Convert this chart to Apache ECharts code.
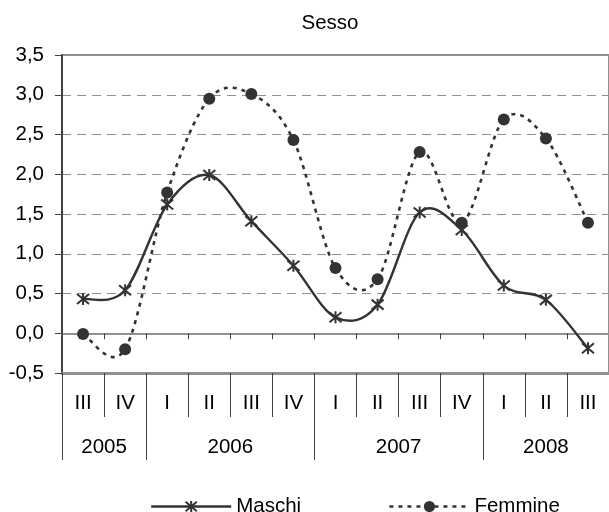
<!DOCTYPE html>
<html>
<head>
<meta charset="utf-8">
<script src="https://cdn.jsdelivr.net/npm/echarts@6/dist/echarts.min.js"></script>
<style>
html,body{margin:0;padding:0;background:#fff;}
#c{width:609px;height:512px;}
</style>
</head>
<body>
<div id="c"></div>
<script>
var quarters = ['III','IV','I','II','III','IV','I','II','III','IV','I','II','III'];
var years = ['2005','2006','2007','2008'];
var yearSpans = [2,4,4,3];
var maschi = [0.43,0.54,1.62,1.99,1.41,0.85,0.20,0.36,1.52,1.30,0.60,0.42,-0.19];
var femmine = [-0.01,-0.20,1.77,2.95,3.01,2.43,0.82,0.68,2.28,1.39,2.69,2.45,1.39];
var yTicks = {min:-0.5, max:3.5, interval:0.5};

// Half-slot year axis (2 slots per quarter, plus end point)
var nHalf = quarters.length*2;
var yearSlots = [];
for (var i=0;i<=nHalf;i++) yearSlots.push('');
var yearBounds = [0];
var yearCenters = [];
var pos = 0;
for (var k=0;k<years.length;k++){
  var c = pos + yearSpans[k];
  yearSlots[c] = years[k];
  yearCenters.push(c);
  pos += yearSpans[k]*2;
  yearBounds.push(pos);
}

var FONT = "'Liberation Sans', Arial, sans-serif";
var FS = 20.5;
var TXT = {fontFamily: FONT, fontSize: FS, color: '#000'};
var starPath = 'path://M0,0L10,10M0,10L10,0M5,-1L5,11';
var INK = '#333';
var MW = 2.4, FW = 2.6, FDASH = [4,5];

// Smooth curve (Catmull-Rom style bezier) through the points, positioned by the axes
function curve(arr, lw, dash){
  return function(params, api){
    var i = params.dataIndex, n = arr.length;
    if (i >= n-1) return null;
    function P(k){ k = Math.max(0, Math.min(n-1, k)); return api.coord([k, arr[k]]); }
    var p0 = P(i-1), p1 = P(i), p2 = P(i+1), p3 = P(i+2), t = 1/6;
    return {
      type: 'bezierCurve',
      shape: {
        x1: p1[0], y1: p1[1], x2: p2[0], y2: p2[1],
        cpx1: p1[0] + (p2[0]-p0[0])*t, cpy1: p1[1] + (p2[1]-p0[1])*t,
        cpx2: p2[0] - (p3[0]-p1[0])*t, cpy2: p2[1] - (p3[1]-p1[1])*t
      },
      style: {stroke: INK, lineWidth: lw, lineDash: dash, fill: 'none'}
    };
  };
}
function pts(arr){ return arr.map(function(v,i){ return [i, v]; }); }

var chart = echarts.init(document.getElementById('c'));
chart.setOption({
  animation: false,
  backgroundColor: '#fff',
  textStyle: {fontFamily: FONT},
  title: {
    text: 'Sesso', left: 325, top: 8, textAlign: 'center',
    textStyle: {fontFamily: FONT, fontSize: FS, fontWeight: 'normal', color: '#000'}
  },
  legend: {
    left: 145, top: 491,
    itemWidth: 80, itemHeight: 14, itemGap: 87,
    textStyle: TXT,
    data: [
      {name: 'Maschi', lineStyle: {color: INK, width: MW, type: 'solid', opacity: 1}},
      {name: 'Femmine', lineStyle: {color: INK, width: FW, type: FDASH, opacity: 1}}
    ]
  },
  grid: {
    left: 62, right: -8, top: 55, bottom: 139,
    show: true, borderColor: '#909090', borderWidth: 2, backgroundColor: 'transparent'
  },
  yAxis: {
    type: 'value', min: yTicks.min, max: yTicks.max, interval: yTicks.interval,
    axisLine: {show: true, onZero: false, lineStyle: {color: '#404040', width: 2}},
    axisTick: {show: true, length: 7, lineStyle: {color: '#404040', width: 1}},
    axisLabel: Object.assign({margin: 18, formatter: function(v){return v.toFixed(1).replace('.', ',');}}, TXT),
    splitLine: {show: true, lineStyle: {color: '#909090', width: 1, type: [9,6]}}
  },
  xAxis: [
    {
      type: 'category', data: quarters, boundaryGap: true, position: 'bottom',
      axisLine: {show: true, onZero: true, lineStyle: {color: '#909090', width: 2}},
      axisTick: {show: true, length: 6, lineStyle: {color: '#404040', width: 1}},
      axisLabel: {show: false}, splitLine: {show: false}
    },
    {
      type: 'category', data: quarters, boundaryGap: true, position: 'bottom',
      axisLine: {show: true, onZero: false, lineStyle: {color: '#909090', width: 3}},
      axisTick: {show: true, length: 44, lineStyle: {color: '#404040', width: 1}},
      axisLabel: Object.assign({margin: 20, interval: 0}, TXT),
      splitLine: {show: false}
    },
    {
      type: 'category', data: yearSlots, boundaryGap: false, position: 'bottom',
      axisLine: {show: false, onZero: false},
      axisTick: {show: true, length: 87, interval: function(i){return yearBounds.indexOf(i) >= 0;}, lineStyle: {color: '#404040', width: 1}},
      axisLabel: Object.assign({margin: 64, interval: function(i){return yearCenters.indexOf(i) >= 0;}}, TXT),
      splitLine: {show: false}
    }
  ],
  series: [
    {
      name: 'Maschi curve', type: 'custom', xAxisIndex: 0, yAxisIndex: 0,
      data: pts(maschi), encode: {x: 0, y: 1},
      renderItem: curve(maschi, MW, null), silent: true
    },
    {
      name: 'Femmine curve', type: 'custom', xAxisIndex: 0, yAxisIndex: 0,
      data: pts(femmine), encode: {x: 0, y: 1},
      renderItem: curve(femmine, FW, FDASH), silent: true
    },
    {
      name: 'Maschi', type: 'line', xAxisIndex: 0, data: maschi, z: 5,
      symbol: starPath, symbolSize: 12,
      lineStyle: {color: INK, width: MW, opacity: 0},
      itemStyle: {color: 'transparent', borderColor: INK, borderWidth: 2}
    },
    {
      name: 'Femmine', type: 'line', xAxisIndex: 0, data: femmine, z: 6,
      symbol: 'circle', symbolSize: 12,
      lineStyle: {color: INK, width: FW, type: FDASH, opacity: 0},
      itemStyle: {color: INK, borderWidth: 0}
    }
  ]
});
</script>
</body>
</html>
